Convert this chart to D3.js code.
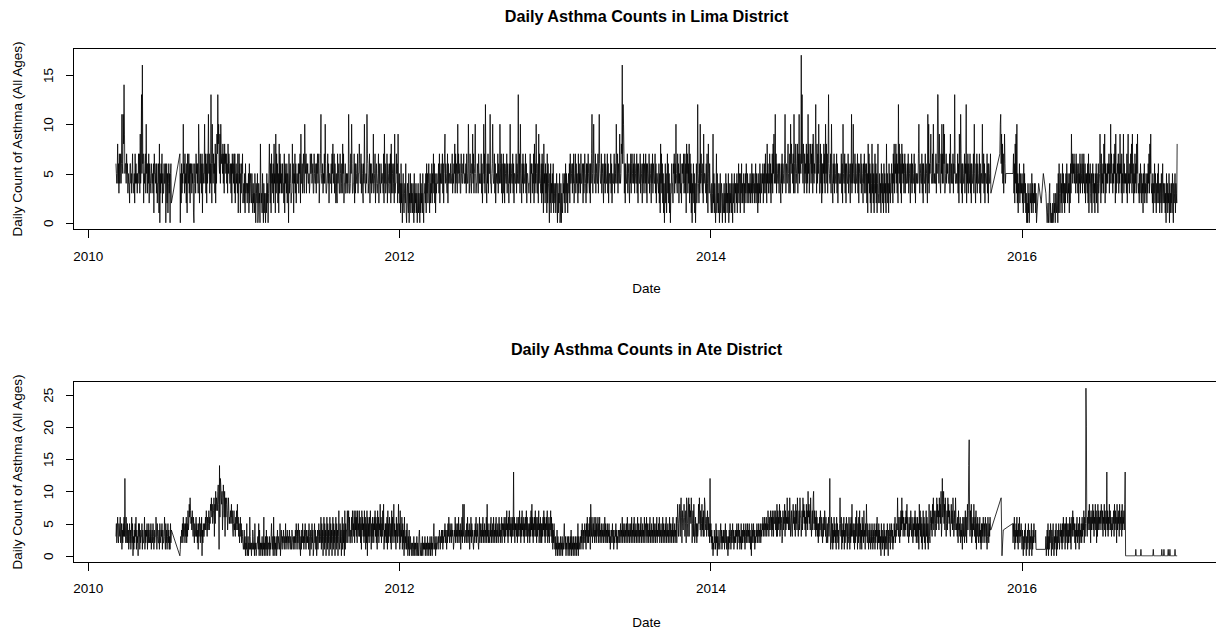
<!DOCTYPE html>
<html><head><meta charset="utf-8">
<script src="https://cdn.jsdelivr.net/npm/d3@7"></script>
<style>
body{margin:0;background:#fff}
svg{display:block}
text{font-family:"Liberation Sans",Arial,sans-serif;fill:#000}
</style>
</head><body>
<svg id="c" width="1216" height="631"></svg>
<script>
// ---- data (one string per month, one character per day; 0-9,a=10..q=26; "." = no record) ----
const months = ["2010-03","2010-04","2010-05","2010-06","2010-07","2010-08","2010-09","2010-10","2010-11","2010-12",
"2011-01","2011-02","2011-03","2011-04","2011-05","2011-06","2011-07","2011-08","2011-09","2011-10","2011-11","2011-12",
"2012-01","2012-02","2012-03","2012-04","2012-05","2012-06","2012-07","2012-08","2012-09","2012-10","2012-11","2012-12",
"2013-01","2013-02","2013-03","2013-04","2013-05","2013-06","2013-07","2013-08","2013-09","2013-10","2013-11","2013-12",
"2014-01","2014-02","2014-03","2014-04","2014-05","2014-06","2014-07","2014-08","2014-09","2014-10","2014-11","2014-12",
"2015-01","2015-02","2015-03","2015-04","2015-05","2015-06","2015-07","2015-08","2015-09","2015-10","2015-11","2015-12",
"2016-01","2016-02","2016-03","2016-04","2016-05","2016-06","2016-07","2016-08","2016-09","2016-10","2016-11","2016-12"];

const limaDaily = [
"..... .. 6545846374 5746b65b8e 9566",
"4756354426 6453574435 2746453547",
"573946d5g6 7254673a56 3647265436 5",
"4536175546 3624461805 3647253364",
"4603625146 350562 ..... ..... .....",
".... 70526354a5 6374526175 4736265",
"6354610465 3756463a72 5746371645",
"5a47362746 b57364d62a 6475638274 9",
"7d8a6594a7 6758473867 5746385764",
"4636275647 3725645371 5746153657 2",
"3425163442 4351624532 5314231530 4",
"3250142308 4231520413 20315240",
"3584261745 3628451937 4625183746 3",
"5364427164 5362540735 6423384615",
"4736245446 3657294463 5743a65736 5",
"6445347557 4563375446 3657467245",
"7b54463547 4a63345746 2554463758 4",
"5736425327 4563375346 3857244633 5",
"4534b63347 5a63344726 3654473558",
"6447365326 4a54354b76 3457264634 5",
"4934572564 3457264436 4554372946",
"3447265436 4728365346 2934475629 3",
"3524162403 5213426103 4215032514 2",
"3142051324 1302413205 142315203",
"3425163524 6315243625 4736251435 4",
"4463725464 4736257946 5437264554",
"6445735465 8374653a57 4563375446 5",
"7445463754 4a63475436 5947356a53",
"4465375454 4736255a47 3c54264736 5",
"5b44356a54 4736245447 3654a64736 2",
"4736265447 3654264a36 5447362554",
"473654d447 3a54264736 5447362554 4",
"3447265635 4728364a53 3629475436",
"2736184526 3517264305 2614352614 3",
"2413520413 2501403215 3425163524 1",
"4536274456 3647245736 45427364",
"5374456263 4754263647 54362647b5 3",
"6a54473654 4736b65447 3654264736",
"5447362554 4736245447 3654a64736 5",
"4954587g6c a736265447 3654264736",
"7546473654 4736265447 3654264736 5",
"4736265447 3654264736 5447362554 4",
"3625184736 2514036251 4736251403",
"3644265736 4a54374625 4734265647 3",
"4736185736 4827361504 3625140362",
"4c54263a47 5436294554 3627418536 4",
"3214139251 4203715231 4025134203 1",
"2413052413 2504132415 30423514",
"3425143625 4153624235 1425364253 4",
"2435243625 3452436253 4152436254",
"3546253647 3528463547 3625473859 4",
"5b47365446 3654264736 5447b63654",
"6853473a68 56473b6358 4568375b47 6",
"5h6d648637 5648374b58 3668475839 5",
"4658c63847 5a63384726 3658473a58",
"4736d65447 3a54264736 5447362554 4",
"5447362a54 4736265447 3654264b36",
"4a54473654 4736265447 3654264736 5",
"3625184736 2514836251 4736251483 2",
"3524163524 1635241835 24163524",
"4635274836 5847362c58 4736285746 3",
"5736445647 3654264736 4457362554",
"5447a63654 4736265447 36542b4a36 5",
"6954474a54 5447365dd6 4964375a47",
"4a69345746 5654473954 6447365d64 4",
"5447362954 b736265447 365c264736 5",
"4736265447 3a54264736 5447362554",
"a447362554 4736265447 3 ..... .....",
"..... ..... 7ab6958473 59645 .....",
"..... ..... . 573628493a 2514362534",
"3524163524 1302041302 4231524132 4",
"24130 .... 4 ..... 2 .... 5 ..... 3 ..",
"0120134021 0102013120 3214205163 1",
"3524163524 1425364253 4152639574",
"6574653746 5362547364 5736475362 5",
"4536271546 3251463524 1536254163",
"4596273546 3859263546 4657364a57 4",
"5364758293 5465736495 6372549364 5",
"4537269453 6475839462 5374638594",
"3425364253 4153624354 2536473859 4",
"3425143625 3142536241 3425136243",
"2413052413 2504132415 3042351432 8"];

const ateDaily = [
"..... .. 3524632543 6235142536 3c52",
"6325241352 4136250314 2536142305",
"3514233514 2236142435 1425324251 3",
"4253142336 4153224153 2435142236",
"3152413524 131524 ..... ..... .....",
".... 0 1324352635 4253625374 586975",
"6475364253 4635241536 4253604253",
"3546475364 5746587968 5679385a79 8",
"7ab81e6cb9 8a47b96a39 6897469756",
"5768574357 4536475846 3524635243 2",
"1241302150 1302163120 2143120512 0",
"1223150412 0213021602 13041302",
"2130213521 3061302130 2413221502 4",
"2132421325 1324213242 1321432132",
"3142531425 3142031425 2314253142 3",
"2415302413 5240135241 3024135242",
"3615240361 5240361524 0361524036 1",
"5240361524 0372152403 6152407152 4",
"4725736224 3627453726 4736274537",
"3625174635 2736152706 3526374152 6",
"3526473625 1736254836 2537481425",
"3526172536 4251736248 3524163524 8",
"3517243615 2406132415 2031402312 0",
"1201302120 1302103420 120130212",
"1302120312 0213021302 1352130213 2",
"2132431324 2413243524 3142536425",
"3425343124 3625342536 2435143628 3",
"4823342536 2435143625 3421342536",
"2435213625 3425362435 2436283524 3",
"2536243526 3425362435 2463524362 5",
"4536253647 3526374536 25364d3625",
"4536253647 3526374536 2536473625 4",
"3526374836 2536473625 3647253625",
"2536473625 3647253625 4736251425 3",
"1302140312 0213021302 1352130213 2",
"0312031403 1203120312 03150312",
"2314253142 3524153624 2536185362 4",
"5362436253 4625362435 2435243625",
"3425243524 1324352413 2435241324 3",
"2435243625 3425342536 2435243526",
"3425362435 2436253425 3624352436 2",
"4536253425 3624352436 2534253624 3",
"5362435243 6253425362 4352436253",
"4253624352 4362586356 8379627546 8",
"6357298536 9386759625 7385246352",
"5348596473 5846373985 4635746352 c",
"3524130214 2315240312 4213524132 4",
"2413524132 0314253142 35241324",
"2435143524 1325142435 2413524352 4",
"3524130524 3524132435 2435243524",
"3546354635 4635475364 5746374637 5",
"5746383746 5837465237 4658374659",
"5647496357 4368574638 5749635749 6",
"6357496857 4638574a68 5749635749 a",
"5746374635 2536475364 2536475362",
"3524635c41 3625142635 2416352413 5",
"9536142536 1425364152 3641526384",
"3524152637 4152637152 4163527341 5",
"3842531425 3142531425 3142536142 5",
"2413052413 2504132415 30423514",
"3524132536 2435495364 2637495736 4",
"5364758364 2536475364 2536473625",
"3625184736 2514736251 4736251483 2",
"5746385947 6357496857 49685a35c6",
"7a58496357 4968574368 5749635749 6",
"4536274536 2435165362 473625847e i",
"6374825364 8536271536 4253624152",
"5364253642 5136425364 4 ..... .....",
"..... ..... ... 9 . 0 .. 4 ..... ..... .",
"..... ..... 5 2536142536 2415362435",
"3142031425 2031425304 1325031425 3",
"3241 ..... ..... ..... ..... . 1302",
"4150314253 0413520314 2503142531 4",
"3524152635 4152635142 5362514637",
"4635241536 2435162435 2635472635 q",
"k536475846 2746584736 5847263847",
"5647586473 65847365d4 7364857463 5",
"4657384756 2846573846 5738465748 d",
"0000000000 0000000000 0000100000",
"0000001000 0000000000 0000000000 0",
"0000100000 0000000000 0000100001",
"0000000001 0001000000 0000010000 0"];

const yearTicks = ["2010","2012","2014","2016"];
const limaYTicks = [0,5,10,15];
const ateYTicks = [0,5,10,15,20,25];
const titles = ["Daily Asthma Counts in Lima District","Daily Asthma Counts in Ate District"];
const xLabel = "Date";
const yLabel = "Daily Count of Asthma (All Ages)";

// ---- build daily points ----
function build(strs){
  const pts=[];
  strs.forEach((raw,mi)=>{
    const s=raw.replace(/\s+/g,"");
    const [yy,mm]=months[mi].split("-").map(Number);
    const dim=new Date(Date.UTC(yy,mm,0)).getUTCDate();
    for(let i=0;i<Math.min(s.length,dim);i++){
      const c=s[i]; if(c===".") continue;
      pts.push({date:new Date(Date.UTC(yy,mm-1,i+1)),v:parseInt(c,36)});
    }
  });
  return pts;
}
const lima=build(limaDaily), ate=build(ateDaily);

const svg=d3.select("#c");
const L=73.5, R=1219.6;
const allDates=lima.concat(ate).map(d=>d.date);
const [d0,d1]=d3.extent(allDates);
const ext=(d1-d0)*0.04;
const x=d3.scaleUtc().domain([new Date(+d0-ext),new Date(+d1+ext)]).range([L,R]);

const panels=[
 {title:titles[0],data:lima,yTicks:limaYTicks,top:48.5,bottom:229.5,titleY:21.5,tickY:260.7,xLabY:293},
 {title:titles[1],data:ate,yTicks:ateYTicks,top:381.5,bottom:562.5,titleY:354.5,tickY:593,xLabY:627}
];

panels.forEach(p=>{
  const mx=d3.max(p.data,d=>d.v), mn=0;
  const e=(mx-mn)*0.04;
  const y=d3.scaleLinear().domain([mn-e,mx+e]).range([p.bottom,p.top]);

  // data line
  svg.append("path").datum(p.data)
    .attr("fill","none").attr("stroke","#000").attr("stroke-width",0.8)
    .attr("stroke-linejoin","round")
    .attr("d",d3.line().x(d=>x(d.date)).y(d=>y(d.v)));

  // box
  svg.append("rect").attr("x",L).attr("y",p.top).attr("width",R-L).attr("height",p.bottom-p.top)
    .attr("fill","none").attr("stroke","#000").attr("stroke-width",1).attr("shape-rendering","crispEdges");

  // x axis
  const xa=d3.axisBottom(x).tickValues(yearTicks.map(t=>new Date(Date.UTC(+t,0,1))))
    .tickFormat(d3.utcFormat("%Y")).tickSize(8).tickSizeOuter(0);
  const gx=svg.append("g").attr("transform",`translate(0,${p.bottom})`).call(xa);
  gx.select(".domain").remove();
  gx.selectAll(".tick line").attr("stroke","#000").attr("shape-rendering","crispEdges");
  gx.selectAll(".tick text").attr("dy",null).attr("y",p.tickY-p.bottom)
    .style("font-size","13.5px").style("font-family","'Liberation Sans',Arial,sans-serif").attr("fill","#000");

  // y axis
  const ya=d3.axisLeft(y).tickValues(p.yTicks).tickFormat(d3.format("d")).tickSize(8).tickSizeOuter(0);
  const gy=svg.append("g").attr("transform",`translate(${L},0)`).call(ya);
  gy.select(".domain").remove();
  gy.selectAll(".tick line").attr("stroke","#000").attr("shape-rendering","crispEdges");
  gy.selectAll(".tick text").attr("dy",null).attr("x",0).attr("y",53-L)
    .attr("transform","rotate(-90)").attr("text-anchor","middle")
    .style("font-size","13.5px").style("font-family","'Liberation Sans',Arial,sans-serif").attr("fill","#000");

  // titles
  svg.append("text").attr("x",(L+R)/2).attr("y",p.titleY).attr("text-anchor","middle")
    .style("font-size","16.2px").style("font-weight","bold").text(p.title);
  svg.append("text").attr("x",(L+R)/2).attr("y",p.xLabY).attr("text-anchor","middle")
    .style("font-size","13.5px").text(xLabel);
  const cy=(p.top+p.bottom)/2;
  svg.append("text").attr("transform",`translate(21.5,${cy}) rotate(-90)`).attr("text-anchor","middle")
    .style("font-size","13.5px").text(yLabel);
});
</script>
</body></html>
